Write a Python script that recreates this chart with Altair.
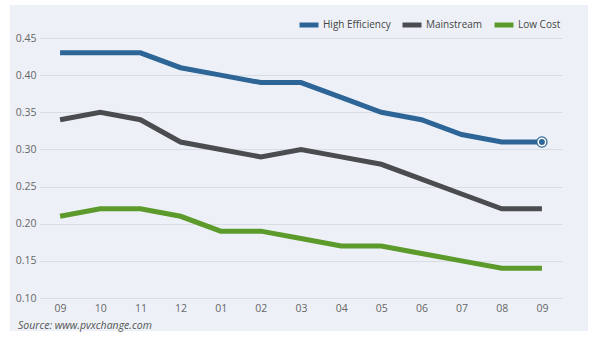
import altair as alt
import pandas as pd

months = ["09", "10", "11", "12", "01", "02", "03", "04", "05", "06", "07", "08", "09"]
series_names = ["High Efficiency", "Mainstream", "Low Cost"]
high_eff = [0.43, 0.43, 0.43, 0.41, 0.40, 0.39, 0.39, 0.37, 0.35, 0.34, 0.32, 0.31, 0.31]
mainstream = [0.34, 0.35, 0.34, 0.31, 0.30, 0.29, 0.30, 0.29, 0.28, 0.26, 0.24, 0.22, 0.22]
low_cost = [0.21, 0.22, 0.22, 0.21, 0.19, 0.19, 0.18, 0.17, 0.17, 0.16, 0.15, 0.14, 0.14]
y_ticks = [0.10, 0.15, 0.20, 0.25, 0.30, 0.35, 0.40, 0.45]
colors = ["#2e6597", "#4a4c4f", "#5b9a2b"]
source_text = "Source: www.pvxchange.com"

rows = []
for name, vals in zip(series_names, [high_eff, mainstream, low_cost]):
    for i, v in enumerate(vals):
        rows.append({"series": name, "idx": i, "value": v})
df = pd.DataFrame(rows)
last = pd.DataFrame([{"series": series_names[0], "idx": len(high_eff) - 1, "value": high_eff[-1]}])

label_expr = "[" + ",".join("'%s'" % m for m in months) + "][datum.value]"

x_enc = alt.X("idx:O", scale=alt.Scale(type="point", padding=0.5),
              axis=alt.Axis(title=None, labelExpr=label_expr, labelAngle=0, ticks=False,
                            domain=False, grid=False, labelPadding=5))
y_enc = alt.Y("value:Q", scale=alt.Scale(domain=[0.10, 0.45], nice=False, zero=False),
              axis=alt.Axis(title=None, values=y_ticks, format=".2f", ticks=False, domain=False,
                            grid=True, labelPadding=4))

white = "#ffffff"
# white margins around the light panel (panel = chart background)
m_left = alt.Chart(alt.Data(values=[{}])).mark_rect(color=white).encode(
    x=alt.value(-40), x2=alt.value(-30), y=alt.value(-38), y2=alt.value(301))
m_top = alt.Chart(alt.Data(values=[{}])).mark_rect(color=white).encode(
    x=alt.value(-40), x2=alt.value(559), y=alt.value(-38), y2=alt.value(-33))
m_right = alt.Chart(alt.Data(values=[{}])).mark_rect(color=white).encode(
    x=alt.value(548), x2=alt.value(559), y=alt.value(-38), y2=alt.value(301))
m_bottom = alt.Chart(alt.Data(values=[{}])).mark_rect(color=white).encode(
    x=alt.value(-40), x2=alt.value(559), y=alt.value(293), y2=alt.value(301))

lines = alt.Chart(df).mark_line(strokeWidth=5).encode(
    x=x_enc,
    y=y_enc,
    color=alt.Color("series:N", scale=alt.Scale(domain=series_names, range=colors),
                    legend=alt.Legend(title=None, orient="none", legendX=257, legendY=-25,
                                      direction="horizontal", symbolType="stroke",
                                      symbolStrokeWidth=5, symbolSize=361, labelFontSize=10,
                                      labelColor="#444444", columnPadding=1, labelOffset=2,
                                      padding=0)),
    detail="series:N",
)

p1 = alt.Chart(last).mark_point(filled=True, size=130, color=colors[0], opacity=1).encode(x=x_enc, y=y_enc)
p2 = alt.Chart(last).mark_point(filled=True, size=80, color=white, opacity=1).encode(x=x_enc, y=y_enc)
p3 = alt.Chart(last).mark_point(filled=True, size=35, color=colors[0], opacity=1).encode(x=x_enc, y=y_enc)

src = alt.Chart(alt.Data(values=[{"t": source_text}])).mark_text(
    align="left", baseline="middle", fontStyle="italic", fontSize=10.5, color="#555555"
).encode(x=alt.value(-22), y=alt.value(288), text="t:N")

chart = alt.layer(m_left, m_top, m_right, m_bottom, lines, p1, p2, p3, src).properties(
    width=522, height=260,
    autosize=alt.AutoSizeParams(type="none"),
    padding={"left": 40, "top": 38, "right": 37, "bottom": 41},
    background="#edf1f7",
).configure_view(stroke=None).configure_axis(
    labelFont="Open Sans", labelFontSize=10.5, labelColor="#666666", gridColor="#d8dde3"
).configure_legend(labelFont="Open Sans").configure_text(font="Open Sans")

chart.save("out.html", embed_options={"renderer": "svg", "actions": False})
